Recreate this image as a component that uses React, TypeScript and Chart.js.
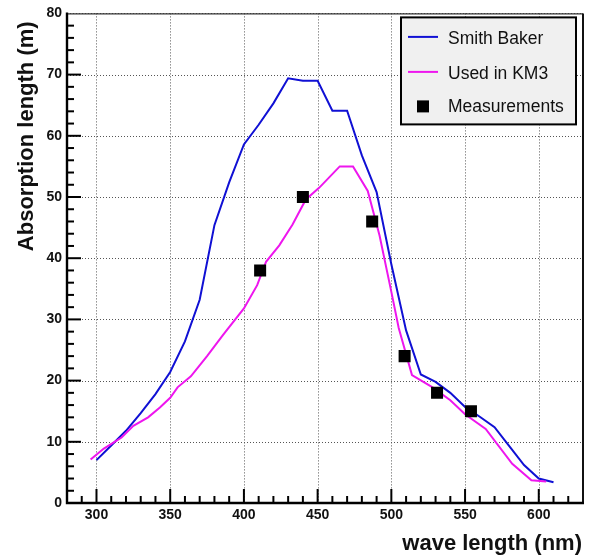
import React, { useEffect, useRef } from "react";
import { Chart, registerables } from "chart.js";

Chart.register(...registerables);

// Smith & Baker absorption length (m) vs wavelength (nm)
const smithWave = [300, 310, 320, 330, 340, 350, 360, 370, 380, 390, 400, 410, 420, 430, 440, 450, 460, 470, 480, 490, 500, 510, 520, 530, 540, 550, 560, 570, 580, 590, 600, 610];
const smithLength = [7.0, 9.4, 11.8, 14.7, 17.8, 21.4, 26.4, 33.2, 45.4, 52.4, 58.6, 61.8, 65.3, 69.4, 69.0, 69.0, 64.1, 64.1, 56.8, 50.8, 39.0, 28.2, 21.0, 19.8, 18.0, 15.7, 14.1, 12.4, 9.3, 6.2, 4.0, 3.4];

// Used in KM3
const km3Wave = [296, 305, 317, 325, 335, 343, 350, 355, 364, 375, 386, 400, 409, 415, 424, 433, 442, 451, 465, 474, 484, 492, 500, 505, 514, 528, 540, 550, 564, 582, 595, 605];
const km3Length = [7.1, 8.9, 10.7, 12.6, 14.0, 15.6, 17.2, 18.9, 20.7, 24.0, 27.5, 31.8, 35.6, 39.4, 42.1, 45.5, 49.6, 51.5, 55.0, 55.0, 51.0, 43.7, 34.5, 28.6, 20.9, 18.9, 16.8, 14.5, 12.1, 6.4, 3.7, 3.5];

// Measurements
const measWave = [411, 440, 487, 509, 531, 554];
const measLength = [38, 50, 46, 24, 18, 15];

const xTickValues = [300, 350, 400, 450, 500, 550, 600];
const yTickValues = [0, 10, 20, 30, 40, 50, 60, 70, 80];

const xTitle = "wave length (nm)";
const yTitle = "Absorption length (m)";

const BLUE = "#1010d4";
const MAGENTA = "#ee16ee";
const FONT = "'Liberation Sans', Arial, Helvetica, sans-serif";

const framePlugin = {
  id: "rootFrame",
  beforeDatasetsDraw(chart: any) {
    const { ctx, chartArea: a, scales } = chart;
    const x = scales.x;
    const y = scales.y;
    ctx.save();
    ctx.strokeStyle = "#555";
    ctx.lineWidth = 1;
    ctx.setLineDash([1, 2]);
    xTickValues.forEach((v) => {
      const px = Math.round(x.getPixelForValue(v)) + 0.5;
      ctx.beginPath();
      ctx.moveTo(px, a.top);
      ctx.lineTo(px, a.bottom);
      ctx.stroke();
    });
    yTickValues.forEach((v) => {
      const py = Math.round(y.getPixelForValue(v)) + 0.5;
      ctx.beginPath();
      ctx.moveTo(a.left, py);
      ctx.lineTo(a.right, py);
      ctx.stroke();
    });
    ctx.restore();
  },
  afterDatasetsDraw(chart: any) {
    const { ctx, chartArea: a, scales } = chart;
    const x = scales.x;
    const y = scales.y;
    ctx.save();
    ctx.setLineDash([]);
    // top & right frame
    ctx.strokeStyle = "#333";
    ctx.lineWidth = 1.2;
    ctx.beginPath();
    ctx.moveTo(a.left, a.top + 0.5);
    ctx.lineTo(a.right, a.top + 0.5);
    ctx.stroke();
    ctx.strokeStyle = "#111";
    ctx.lineWidth = 2;
    ctx.beginPath();
    ctx.moveTo(a.right, a.top);
    ctx.lineTo(a.right, a.bottom);
    ctx.stroke();
    // axes
    ctx.strokeStyle = "#000";
    ctx.lineWidth = 2.4;
    ctx.beginPath();
    ctx.moveTo(a.left, a.top - 1);
    ctx.lineTo(a.left, a.bottom);
    ctx.lineTo(a.right + 1, a.bottom);
    ctx.stroke();
    // ticks (inward)
    ctx.lineWidth = 2;
    for (let v = x.min + 10; v < x.max; v += 10) {
      const major = v % 50 === 0;
      const px = x.getPixelForValue(v);
      ctx.beginPath();
      ctx.moveTo(px, a.bottom);
      ctx.lineTo(px, a.bottom - (major ? 14 : 7));
      ctx.stroke();
    }
    for (let v = y.min + 2; v < y.max; v += 2) {
      const major = v % 10 === 0;
      const py = y.getPixelForValue(v);
      ctx.beginPath();
      ctx.moveTo(a.left, py);
      ctx.lineTo(a.left + (major ? 14 : 7), py);
      ctx.stroke();
    }
    // axis titles
    ctx.fillStyle = "#111";
    ctx.font = `bold 22px ${FONT}`;
    ctx.textAlign = "right";
    ctx.textBaseline = "middle";
    ctx.fillText(xTitle, a.right - 1, a.bottom + 41);
    ctx.save();
    ctx.translate(27, a.top + 8);
    ctx.rotate(-Math.PI / 2);
    ctx.fillText(yTitle, 0, 0);
    ctx.restore();

    // legend
    const lx = a.right - 182;
    const ly = a.top + 4;
    const lw = 175;
    const lh = 107;
    ctx.fillStyle = "#f0f0f0";
    ctx.fillRect(lx, ly, lw, lh);
    ctx.strokeStyle = "#000";
    ctx.lineWidth = 2;
    ctx.strokeRect(lx, ly, lw, lh);
    const rows = [
      { label: chart.data.datasets[1].label, color: BLUE, kind: "line", yy: ly + 22 },
      { label: chart.data.datasets[2].label, color: MAGENTA, kind: "line", yy: ly + 57 },
      { label: chart.data.datasets[0].label, color: "#000", kind: "rect", yy: ly + 90 },
    ];
    ctx.font = `17.5px ${FONT}`;
    ctx.textAlign = "left";
    ctx.textBaseline = "middle";
    rows.forEach((r) => {
      if (r.kind === "line") {
        ctx.strokeStyle = r.color;
        ctx.lineWidth = 2;
        ctx.beginPath();
        ctx.moveTo(lx + 7, r.yy - 2.5);
        ctx.lineTo(lx + 37, r.yy - 2.5);
        ctx.stroke();
      } else {
        ctx.fillStyle = "#000";
        ctx.fillRect(lx + 16, r.yy - 7, 12, 12);
      }
      ctx.fillStyle = "#111";
      ctx.fillText(r.label, lx + 47, r.yy);
    });
    ctx.restore();
  },
};

export default function App() {
  const canvasRef = useRef<HTMLCanvasElement | null>(null);

  useEffect(() => {
    const canvas = canvasRef.current;
    if (!canvas) return;
    const chart = new Chart(canvas, {
      type: "line",
      data: {
        datasets: [
          {
            label: "Measurements",
            data: measWave.map((w, i) => ({ x: w, y: measLength[i] })),
            showLine: false,
            pointStyle: "rect",
            pointRadius: 8.5,
            pointBackgroundColor: "#000",
            pointBorderColor: "#000",
            pointBorderWidth: 0,
            order: 0,
          },
          {
            label: "Smith Baker",
            data: smithWave.map((w, i) => ({ x: w, y: smithLength[i] })),
            borderColor: BLUE,
            borderWidth: 2,
            pointRadius: 0,
            tension: 0,
            order: 2,
          },
          {
            label: "Used in KM3",
            data: km3Wave.map((w, i) => ({ x: w, y: km3Length[i] })),
            borderColor: MAGENTA,
            borderWidth: 2,
            pointRadius: 0,
            tension: 0,
            order: 1,
          },
        ],
      },
      options: {
        responsive: false,
        animation: false,
        devicePixelRatio: 1,
        layout: { padding: { top: 10, right: 15, left: 0, bottom: 0 } },
        plugins: {
          legend: { display: false },
          tooltip: { enabled: false },
        },
        scales: {
          x: {
            type: "linear",
            min: 280,
            max: 630,
            grid: { display: false, drawTicks: false },
            border: { display: false },
            afterBuildTicks: (s: any) => {
              s.ticks = xTickValues.map((v) => ({ value: v }));
            },
            afterFit: (s: any) => {
              s.height = 55;
            },
            ticks: {
              padding: 4,
              maxRotation: 0,
              color: "#111",
              font: { family: FONT, size: 14, weight: "bold" },
            },
          },
          y: {
            type: "linear",
            min: 0,
            max: 80,
            grid: { display: false, drawTicks: false },
            border: { display: false },
            afterBuildTicks: (s: any) => {
              s.ticks = yTickValues.map((v) => ({ value: v }));
            },
            afterFit: (s: any) => {
              s.width = 67;
            },
            ticks: {
              padding: 5,
              color: "#111",
              font: { family: FONT, size: 14, weight: "bold" },
            },
          },
        },
      },
      plugins: [framePlugin],
    } as any);
    return () => chart.destroy();
  }, []);

  return (
    <div style={{ position: "fixed", left: 0, top: 0, width: 598, height: 558, background: "#fff" }}>
      <canvas ref={canvasRef} width={598} height={558} style={{ width: 598, height: 558, display: "block" }} />
    </div>
  );
}
